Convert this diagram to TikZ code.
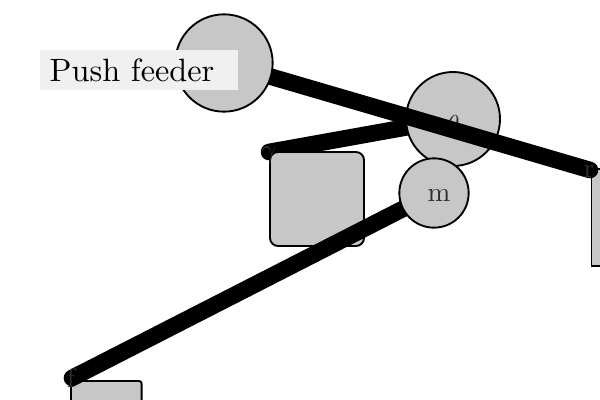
\documentclass[tikz,border=0pt]{standalone}
\tikzset{
  body/.style={draw=black,fill=black!22,line width=1.4pt,text=black!85},
  rod/.style={line width=12.5pt,line cap=round,draw=black},
  glyph/.style={inner sep=0pt,text=black!82,scale=2.05},
}
\begin{document}
\begin{tikzpicture}[x=0.75pt,y=-0.75pt]
\useasboundingbox (0,0) rectangle (600,400);
\clip (0,0) rectangle (600,400);
\coordinate (rEnd) at (590,170);
\coordinate (vEnd) at (269,152);
\coordinate (fEnd) at (72,378);
\coordinate (cA) at (224,63);
\coordinate (cT) at (453,119);
\coordinate (cM) at (434,193);
\draw[rod] (cT) -- (vEnd);
\node[body,rounded corners=6pt,minimum width=70.5pt,minimum height=70.5pt,inner sep=0pt] (sq) at (317,199) {};
\node[body,minimum width=72.5pt,minimum height=72.5pt,inner sep=0pt,anchor=north west] (rbox) at (590.5,168) {};
\node[body,rounded corners=2pt,minimum width=53pt,minimum height=53pt,inner sep=0pt,anchor=north west] (bbox) at (70,380) {};
\draw[rod] (cM) -- (fEnd);
\node[body,circle,minimum size=70.5pt,inner sep=0pt] (theta) at (cT) {};
\node[glyph] (thetal) at (453,125) {$\theta$};
\draw[rod] (cA) -- (rEnd);
\node[body,circle,minimum size=73pt,inner sep=0pt] (push) at (cA) {};
\node[body,circle,minimum size=52pt,inner sep=0pt] (mass) at (cM) {};
\node[glyph] (massl) at (439,195) {m};
\node[glyph] (rl) at (589,171) {r};
\node[glyph] (vl) at (269,155) {$\gamma$};
\node[glyph] (fl) at (71,378) {f};
\node[fill=black!6,minimum width=148.5pt,minimum height=30pt,inner sep=0pt,anchor=north west] (lab) at (40,50) {};
\node[anchor=west,inner sep=0pt,scale=2.42] (labt) at (49,70) {Push feeder};
\end{tikzpicture}
\end{document}
